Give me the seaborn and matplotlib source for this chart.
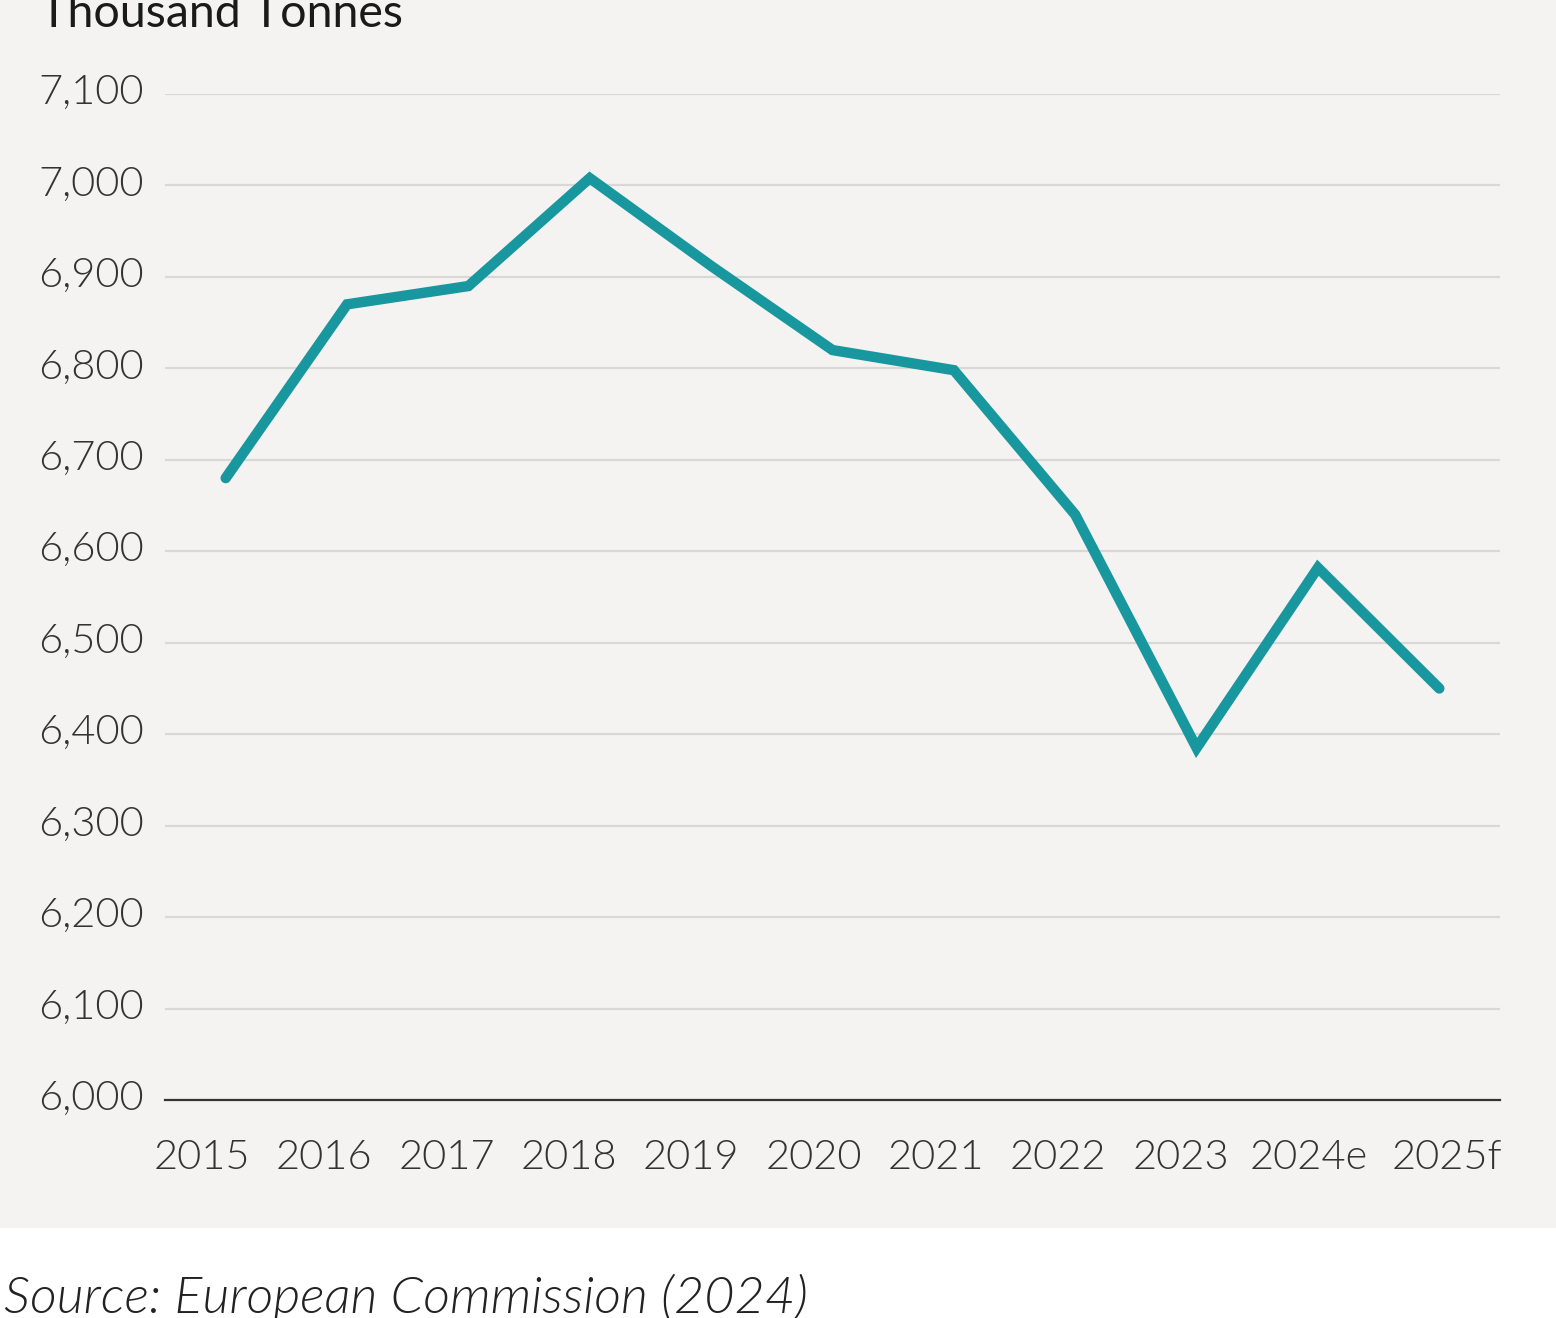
import matplotlib
matplotlib.use("Agg")
import matplotlib.pyplot as plt
import matplotlib.transforms as mtransforms
import seaborn as sns
from matplotlib.patches import Rectangle

# data (thousand tonnes)
years = ["2015", "2016", "2017", "2018", "2019", "2020",
         "2021", "2022", "2023", "2024e", "2025f"]
production = [6680, 6870, 6890, 7008, 6912, 6820, 6798, 6640, 6385, 6582, 6450]
y_ticks = [6000, 6100, 6200, 6300, 6400, 6500, 6600, 6700, 6800, 6900, 7000, 7100]

sns.set_theme(style="white")
plt.rcParams["font.family"] = ["Lato", "DejaVu Sans"]

bg = "#f4f3f1"
teal = "#18979f"
txt = "#333333"

fig = plt.figure(figsize=(15.56, 13.18), dpi=100, facecolor="white")
# grey panel behind the chart, white strip for the source line
fig.patches.append(Rectangle((0, 1 - 1228 / 1318), 1, 1228 / 1318,
                             transform=fig.transFigure, facecolor=bg,
                             edgecolor="none", zorder=-10))

ax = fig.add_axes([165 / 1556, 1 - 1100 / 1318, 1335 / 1556, 1006 / 1318])
ax.patch.set_alpha(0)

sns.lineplot(x=years, y=production, sort=False, color=teal, linewidth=7.5,
             solid_capstyle="round", solid_joinstyle="miter", ax=ax, zorder=3)

ax.set_xlim(-0.5, 10.5)
ax.set_ylim(6000, 7100)
ax.set_yticks(y_ticks)
ax.set_yticklabels([f"{v:,}" for v in y_ticks])
ax.grid(axis="y", color="#d9d8d6", linewidth=1.6)
ax.set_axisbelow(True)

for s in ["top", "right", "left"]:
    ax.spines[s].set_visible(False)
ax.spines["bottom"].set_color("#333333")
ax.spines["bottom"].set_linewidth(1.6)
ax.spines["bottom"].set_zorder(4)

ax.tick_params(axis="y", length=0, pad=15, labelsize=30, labelcolor=txt)
ax.tick_params(axis="x", length=0, pad=28, labelsize=30, labelcolor=txt)
ax.set_xlabel("")
ax.set_ylabel("")

# the year labels in the original sit a little left of their points
shift_px = [-24, -23, -22, -21, -20, -19, -18, -17, -16, -9, 8]
for lab, dx in zip(ax.get_xticklabels(), shift_px):
    lab.set_fontweight(300)
    lab.set_transform(lab.get_transform() +
                      mtransforms.ScaledTranslation(dx / 100, 0, fig.dpi_scale_trans))
for lab in ax.get_yticklabels():
    lab.set_fontweight(300)
    lab.set_transform(lab.get_transform() +
                      mtransforms.ScaledTranslation(0, 5 / 100, fig.dpi_scale_trans))

fig.text(40 / 1556, 1 - 27 / 1318, "Thousand Tonnes", fontsize=33.5,
         color="#1a1a1a", va="baseline", ha="left")
fig.text(4 / 1556, 1 - 1313 / 1318, "Source: European Commission (2024)",
         fontsize=37.5, color="#222222", style="italic", fontweight=300,
         va="baseline", ha="left")

fig.savefig("out.png", dpi=100, facecolor="white")
